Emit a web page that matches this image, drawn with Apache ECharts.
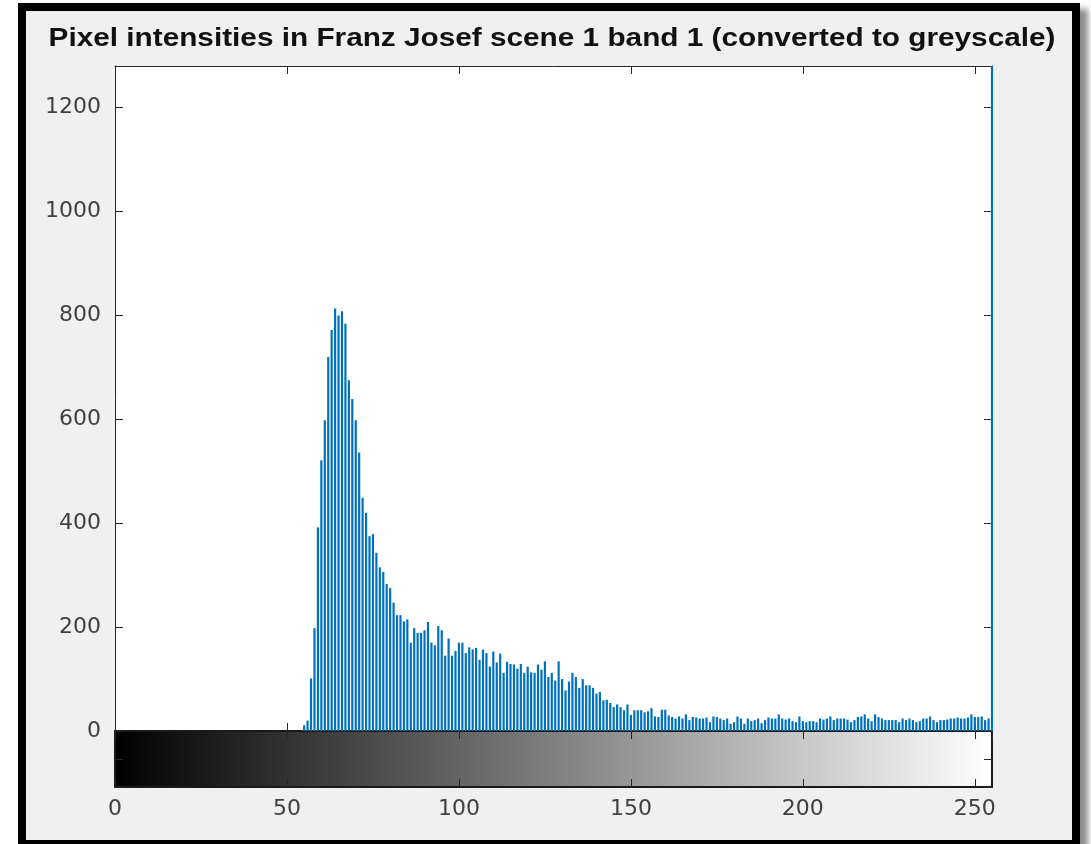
<!DOCTYPE html>
<html>
<head>
<meta charset="utf-8">
<script src="https://cdn.jsdelivr.net/npm/echarts@6/dist/echarts.min.js"></script>
<style>
html,body{margin:0;padding:0;background:#fff;width:1091px;height:844px;overflow:hidden;}
#frame{position:absolute;left:18px;top:3px;width:1062px;height:845px;box-sizing:border-box;border:8px solid #000;background:#f0f0f0;box-shadow:8px 6px 6px rgba(0,0,0,0.45);}
#chart{position:absolute;left:0;top:0;width:1091px;height:844px;}
</style>
</head>
<body>
<div id="frame"></div>
<div id="chart"></div>
<script>
const titleText = 'Pixel intensities in Franz Josef scene 1 band 1 (converted to greyscale)';
const intensityRange = [0, 255];
const countRange = [0, 1280];
const xTickStep = 50;
const yTickStep = 200;
// histogram counts for intensities 0..255
const countsZero = [0,0,0,0,0,0,0,0,0,0, 0,0,0,0,0,0,0,0,0,0, 0,0,0,0,0,0,0,0,0,0,
  0,0,0,0,0,0,0,0,0,0, 0,0,0,0,0,0,0,0,0,0, 0,0,0,0,0]; // 0..54
const countsPeak = [11,20,101,198,392,521,598,720,772,813,800,808,784,675,639,598,536,449,420,375,
  379,343,315,306,283,275,247,223,223,211,215,170,198,189,189,194,210,170,165,202,
  194,145,178,145,154,170]; // 55..100
const countsMid = [170,150,161,157,160,137,157,150,124,153,132,149,112,133,129,128,120,129,112,124,
  113,112,128,118,134,104,112,97,134,100,78,95,112,104,83,100,88,88,83,72,
  75,59,60,54,46,51,46,40,51,31,40,40,40,36,38,44,28,27]; // 101..158
const countsTail1 = [41,41,30,27,24,28,24,32,21,27,26,24,24,26,17,28,27,24,21,24,
  14,17,28,24,14,24,19,21,24,15,21,26,24,24,32,24,22,24,19,17,
  28,19,17,19,19,17,24,22]; // 159..206
const countsTail2 = [24,28,21,24,24,24,22,17,21,27,28,32,24,19,32,27,24,21,21,21,
  21,17,24,21,24,21,17,19,24,24,28,21,17,21,21,22,24,24,26,24,
  24,26,32,27,27,28,21,24]; // 207..254
const countsLast = [2000]; // 255 (off scale)
const counts = countsZero.concat(countsPeak, countsMid, countsTail1, countsTail2, countsLast);

const axisColor = '#262626';
const cbarColor = '#1a1a1a';
const labelColor = '#404040';
const fontFam = '"DejaVu Sans", sans-serif';

function xAx(grid, pos, showLabel, lineColor, lineWidth) {
  return {
    gridIndex: grid, type: 'value', position: pos,
    min: intensityRange[0], max: intensityRange[1], interval: xTickStep,
    axisLine: {show: true, onZero: false, lineStyle: {color: lineColor, width: lineWidth}},
    axisTick: {show: true, inside: true, length: 8, lineStyle: {color: axisColor, width: 1}},
    axisLabel: {show: showLabel, margin: 11, fontSize: 22, color: labelColor, fontFamily: fontFam,
      showMaxLabel: false, formatter: v => String(v)},
    splitLine: {show: false}
  };
}
function yAx(grid, pos, showLabel, mn, mx, step, lineColor, lineWidth) {
  return {
    gridIndex: grid, type: 'value', position: pos,
    min: mn, max: mx, interval: step,
    axisLine: {show: true, onZero: false, lineStyle: {color: lineColor, width: lineWidth}},
    axisTick: {show: true, inside: true, length: 8, lineStyle: {color: axisColor, width: 1}},
    axisLabel: {show: showLabel, margin: 14, fontSize: 22, color: labelColor, fontFamily: fontFam,
      showMaxLabel: false, formatter: v => String(v)},
    splitLine: {show: false}
  };
}

const chart = echarts.init(document.getElementById('chart'), null, {renderer: 'canvas'});
chart.setOption({
  animation: false,
  graphic: [{
    type: 'text', x: 552, y: 39, scaleX: 1.19, originX: 0, originY: 0,
    style: {text: titleText, align: 'center', verticalAlign: 'middle',
      font: 'bold 25px "Liberation Sans", Arial, sans-serif', fill: '#111'}
  }],
  grid: [
    {left: 115, top: 66, width: 877, height: 665, show: true, backgroundColor: '#ffffff', borderWidth: 0},
    {left: 115, top: 731, width: 877, height: 56}
  ],
  xAxis: [
    xAx(0, 'bottom', false, axisColor, 1),
    xAx(0, 'top', false, axisColor, 1),
    xAx(1, 'bottom', true, cbarColor, 2),
    xAx(1, 'top', false, cbarColor, 2)
  ],
  yAxis: [
    yAx(0, 'left', true, countRange[0], countRange[1], yTickStep, axisColor, 1),
    yAx(0, 'right', false, countRange[0], countRange[1], yTickStep, axisColor, 1),
    yAx(1, 'left', false, 0, 1, 0.5, cbarColor, 2),
    yAx(1, 'right', false, 0, 1, 0.5, cbarColor, 2)
  ],
  series: [
    {
      type: 'bar', xAxisIndex: 0, yAxisIndex: 0,
      data: counts.map((c, i) => [i, c]),
      barWidth: 2.2, clip: true,
      itemStyle: {color: '#0072BD'},
      z: 2
    },
    {
      type: 'custom', xAxisIndex: 2, yAxisIndex: 2, z: -1,
      data: [[intensityRange[0], intensityRange[1]]],
      renderItem: function (params, api) {
        const p0 = api.coord([api.value(0), 0]);
        const p1 = api.coord([api.value(1), 1]);
        return {
          type: 'rect',
          shape: {x: p0[0], y: p1[1], width: p1[0] - p0[0], height: p0[1] - p1[1]},
          style: {fill: new echarts.graphic.LinearGradient(0, 0, 1, 0, [
            {offset: 0, color: '#000000'}, {offset: 1, color: '#ffffff'}])}
        };
      }
    }
  ]
});
</script>
</body>
</html>
